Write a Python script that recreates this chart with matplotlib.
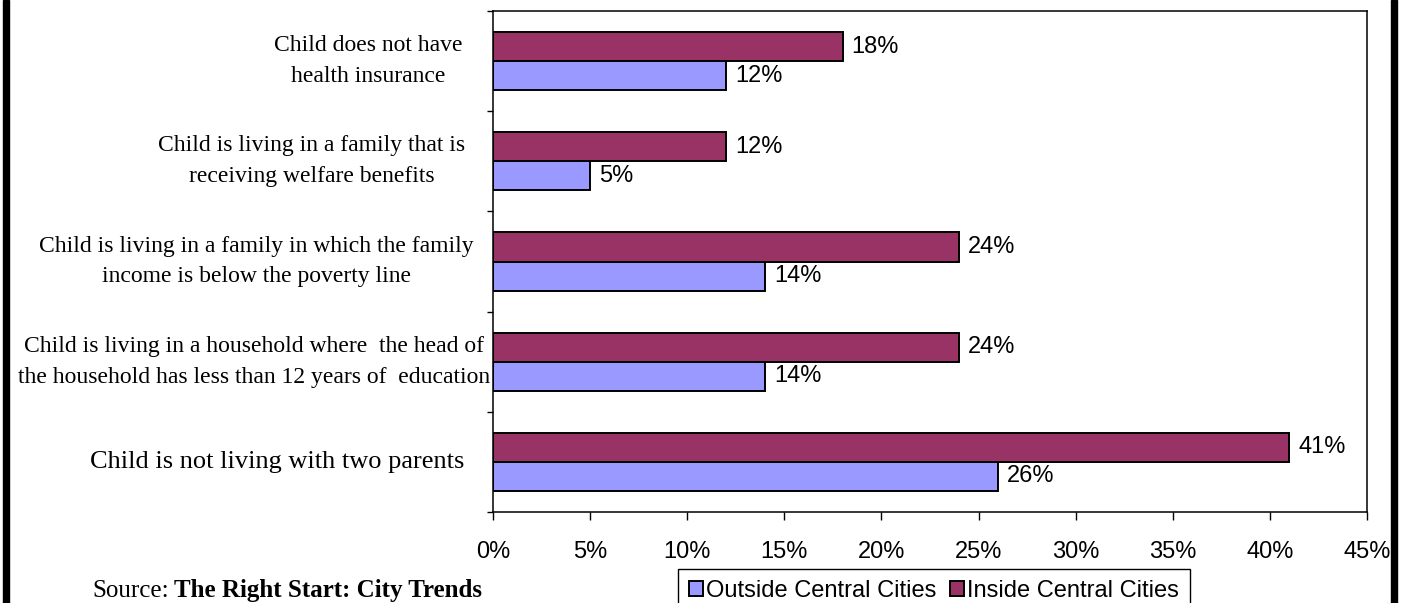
import numpy as np
import matplotlib.pyplot as plt
from matplotlib.patches import Rectangle

# indicators of child well-being, top to bottom
categories = [
    "Child does not have\nhealth insurance",
    "Child is living in a family that is\nreceiving welfare benefits",
    "Child is living in a family in which the family\nincome is below the poverty line",
    "Child is living in a household where  the head of\nthe household has less than 12 years of  education",
    "Child is not living with two parents",
]
inside_pct = [18, 12, 24, 24, 41]
outside_pct = [12, 5, 14, 14, 26]
series_names = ["Outside Central Cities", "Inside Central Cities"]
x_ticks = [0, 5, 10, 15, 20, 25, 30, 35, 40, 45]

W, H = 1407, 603
sans = ["Liberation Sans", "DejaVu Sans"]
serif = ["Liberation Serif", "DejaVu Serif"]

fig = plt.figure(figsize=(W / 100, H / 100), dpi=100)
ax = fig.add_axes([493 / W, 1 - 512 / H, 874 / W, 501 / H])

y = np.arange(len(categories))
bh = 0.29
b_in = ax.barh(y - bh / 2, inside_pct, height=bh, color="#993366",
               edgecolor="black", linewidth=1.4, label=series_names[1])
b_out = ax.barh(y + bh / 2, outside_pct, height=bh, color="#9999FF",
                edgecolor="black", linewidth=1.4, label=series_names[0])

for bars, vals in ((b_in, inside_pct), (b_out, outside_pct)):
    for rect, v in zip(bars, vals):
        ax.annotate(f"{v}%", xy=(v, rect.get_y() + rect.get_height() / 2),
                    xytext=(9, 0), textcoords="offset pixels",
                    ha="left", va="center", fontsize=17, family=sans)

ax.set_xlim(0, 45)
ax.set_ylim(len(categories) - 0.5, -0.5)
ax.set_xticks(x_ticks)
ax.set_xticklabels([f"{t}%" for t in x_ticks], fontsize=17, family=sans)
ax.set_yticks(np.arange(len(categories) + 1) - 0.5)
ax.set_yticklabels([])
ax.tick_params(axis="x", direction="out", length=5.8, width=1, pad=15)
ax.tick_params(axis="y", direction="out", length=4.3, width=1)
for s in ax.spines.values():
    s.set_linewidth(1.1)
    s.set_color("black")

# category names, centred lines, right-aligned next to the axis
label_pad = [31, 28, 19, 3, 29]
label_size = [17, 17, 17, 17, 19]
for i, cat in enumerate(categories):
    ax.annotate(cat, xy=(0, i), xycoords=ax.get_yaxis_transform(),
                xytext=(-label_pad[i], 0), textcoords="offset pixels",
                ha="right", va="center", multialignment="center",
                fontsize=label_size[i], family=serif, linespacing=1.6)

leg = fig.legend(handles=[b_out, b_in], labels=series_names, loc="upper left",
                 bbox_to_anchor=(678 / W, 1 - 569 / H), borderaxespad=0,
                 ncol=2, prop={"family": sans, "size": 17},
                 handlelength=0.6, handleheight=0.6, handletextpad=0.15,
                 columnspacing=0.55, borderpad=0.45, fancybox=False,
                 framealpha=1, edgecolor="black")
leg.get_frame().set_linewidth(1.0)

src = fig.text(92 / W, 1 - 597 / H, "Source:", fontsize=18, family=serif,
               va="baseline")
ax.annotate("The Right Start: City Trends", xy=(1, 0), xycoords=src,
            xytext=(5, 0), textcoords="offset pixels", va="bottom",
            fontsize=18, family=serif, fontweight="bold")

# black page edges
fig.add_artist(Rectangle((3 / W, 0), 6 / W, 1, transform=fig.transFigure,
                         color="black"))
fig.add_artist(Rectangle((1391 / W, 0), 6 / W, 1, transform=fig.transFigure,
                         color="black"))

fig.savefig("out.png", dpi=100)
